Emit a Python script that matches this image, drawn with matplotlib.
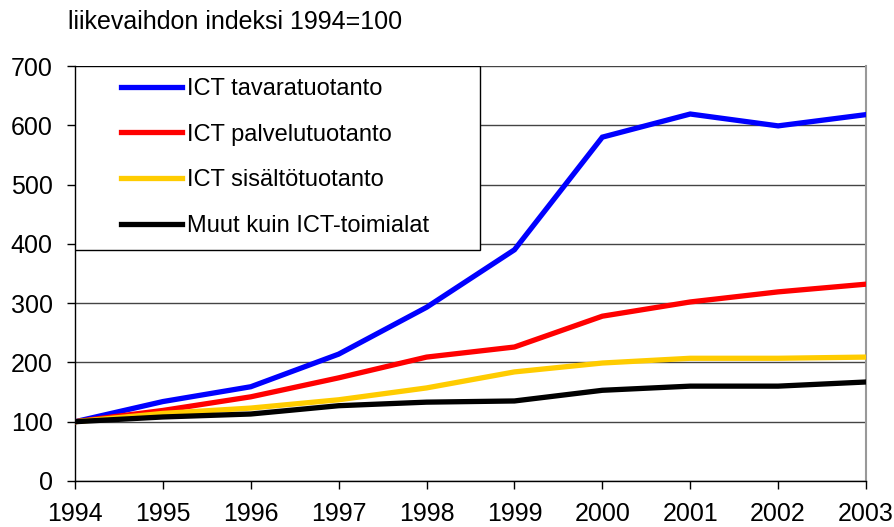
import matplotlib.pyplot as plt
from matplotlib.patches import Rectangle

plt.rcParams['font.family'] = ['Liberation Sans', 'DejaVu Sans']

years = [1994, 1995, 1996, 1997, 1998, 1999, 2000, 2001, 2002, 2003]
tavara = [100, 134, 159, 214, 293, 390, 580, 619, 599, 618]
palvelu = [100, 119, 142, 174, 209, 226, 278, 302, 319, 332]
sisalto = [100, 114, 123, 137, 157, 184, 199, 207, 207, 209]
muut = [100, 108, 113, 127, 133, 135, 153, 160, 160, 167]

labels = ['ICT tavaratuotanto', 'ICT palvelutuotanto',
          'ICT sisältötuotanto', 'Muut kuin ICT-toimialat']
colors = ['#0000ff', '#ff0000', '#ffcc00', '#000000']

fig = plt.figure(figsize=(8.95, 5.27), dpi=100)
ax = fig.add_axes([75/895, 1-481/527, (866-75)/895, (481-66)/527])

for ys, c, lab in zip([tavara, palvelu, sisalto, muut], colors, labels):
    ax.plot(years, ys, color=c, lw=3.8, label=lab, solid_joinstyle='miter', zorder=3)

ax.set_xlim(1994, 2003)
ax.set_ylim(0, 700)
ax.set_xticks(years)
ax.set_yticks(range(0, 701, 100))
ax.tick_params(labelsize=18, length=6, width=1, direction='out', colors='black')
ax.tick_params(axis='x', pad=9)
ax.tick_params(axis='y', pad=10)
ax.grid(axis='y', color='#444444', lw=1)
ax.set_axisbelow(True)
ax.spines['top'].set_visible(False)
ax.spines['right'].set_color('#999999')
ax.spines['right'].set_linewidth(1.5)
ax.spines['left'].set_linewidth(1)
ax.spines['bottom'].set_linewidth(1)

# legend frame
ax.add_patch(Rectangle((0, (481-250)/415), (480-75)/791, (250-66)/415,
                       transform=ax.transAxes, facecolor='white', edgecolor='black',
                       lw=1, zorder=4))
leg = ax.legend(loc='upper left', bbox_to_anchor=((121-75)/791, 1-12/415),
                frameon=False, fontsize=17, handlelength=2.6, handletextpad=0.2,
                labelspacing=1.0, borderaxespad=0, borderpad=0)
leg.set_zorder(5)

fig.text(68/895, 1-22/527, 'liikevaihdon indeksi 1994=100', fontsize=18,
         va='center', ha='left')

fig.savefig('out.png', dpi=100)
